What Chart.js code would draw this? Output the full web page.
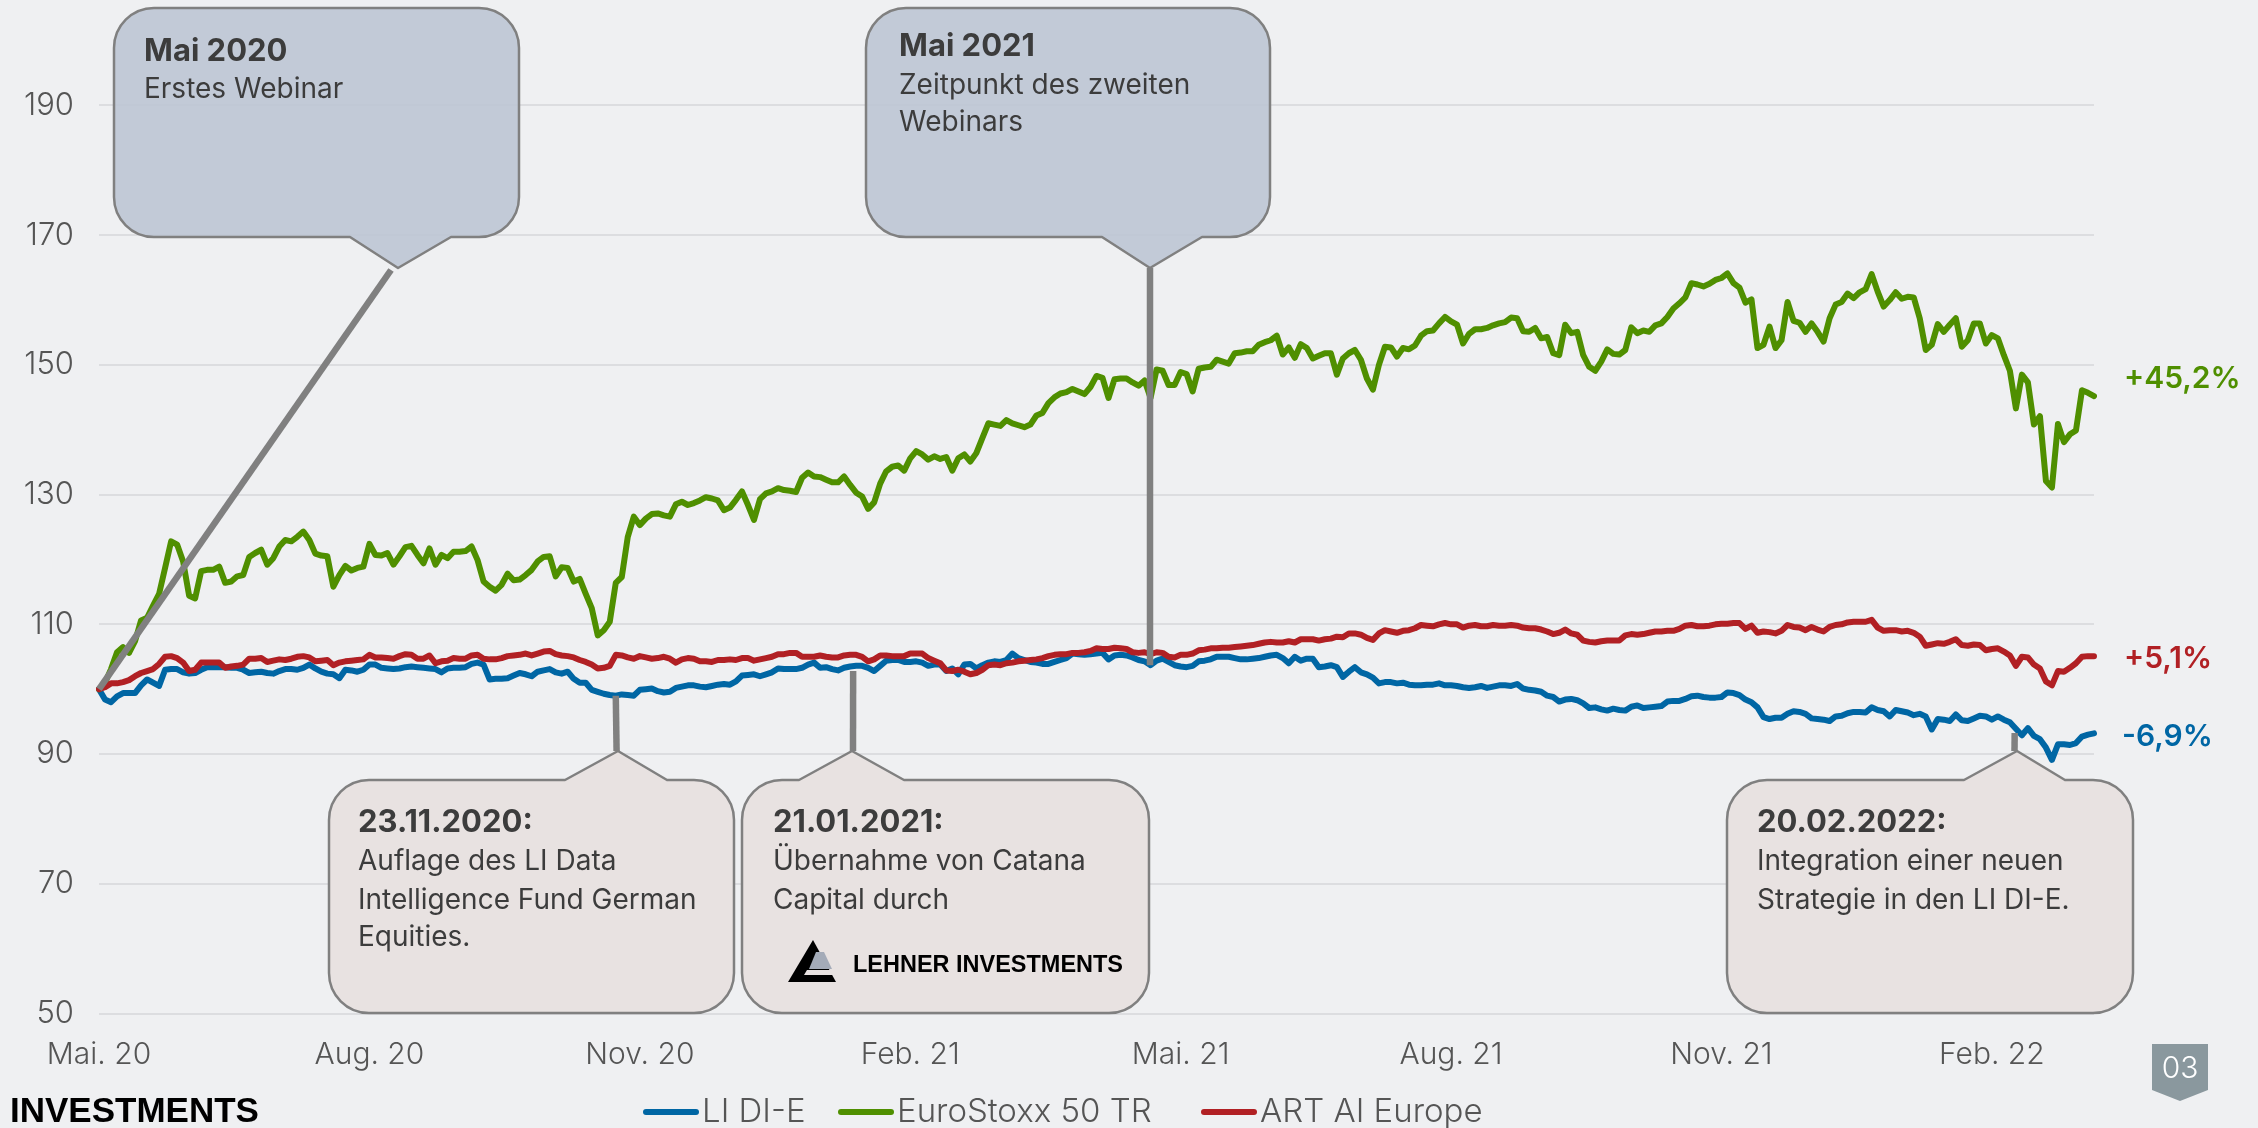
<!DOCTYPE html>
<html lang="de">
<head>
<meta charset="utf-8">
<title>LI DI-E</title>
<script src="https://cdn.jsdelivr.net/npm/chart.js@4/dist/chart.umd.min.js"></script>
<style>html,body{margin:0;padding:0;background:#eff0f2;overflow:hidden}canvas{display:block}</style>
</head>
<body>
<canvas id="c" width="2258" height="1128"></canvas>
<script>
const xTickLabels = ['Mai. 20','Aug. 20','Nov. 20','Feb. 21','Mai. 21','Aug. 21','Nov. 21','Feb. 22'];
const xTickEvery = 45;
const yTickValues = [50,70,90,110,130,150,170,190];

const seriesNames = ['LI DI-E','EuroStoxx 50 TR','ART AI Europe'];
const endLabels = ['-6,9%','+45,2%','+5,1%'];

const liDiE = [
100,98.4,98,98.9,99.4,99.4,99.4,100.6,101.5,101,100.5,103,103.1,103.1,102.6,102.4,102.5,103,103.4,103.4,103.4,103.4,103.3,103.3,103,102.5,102.6,102.7,102.5,102.4,102.8,103.1,103.1,103,103.3,103.8,103.2,102.7,102.4,102.3,101.7,103,102.9,102.7,103,103.8,103.8,103.3,103.2,103.1,103.2,103.4,103.5,103.4,103.3,103.2,
103.1,102.6,103.2,103.3,103.3,103.4,103.9,104.1,103.8,101.5,101.6,101.6,101.7,102.1,102.5,102.3,102,102.7,102.9,103.1,102.6,102.4,102.7,101.6,101,101,99.9,99.6,99.3,99.1,99,99.2,99.1,99,99.9,100,100.1,99.7,99.5,99.6,100.2,100.4,100.6,100.6,100.4,100.3,100.5,100.7,100.8,100.7,101.2,102.1,102.2,102.3,102,102.3,
102.6,103.2,103.1,103.1,103.1,103.3,103.8,104.1,103.3,103.4,103.1,102.9,103.3,103.5,103.6,103.6,103.3,102.8,103.6,104.4,104.5,104.5,104.2,104.2,104.3,104.1,103.6,103.8,103.8,102.8,103.2,102.3,103.8,103.9,103.2,103.7,104.1,104.3,104.2,104.5,105.5,104.8,104.5,104.2,104.1,103.9,103.9,104.2,104.5,104.8,105.5,105.4,105.3,105.4,105.5,105.6,104.6,
105.2,105.3,105.2,104.9,104.5,104.3,103.7,104.4,104.7,104.2,103.7,103.5,103.4,103.6,104.3,104.4,104.6,105,105,105,104.8,104.6,104.6,104.7,104.8,105,105.2,105.3,104.8,104,105,104.4,104.7,104.7,103.4,103.5,103.7,103.4,101.9,102.7,103.4,102.6,102.3,101.8,100.9,101.1,101.1,100.9,101,100.7,100.6,100.6,100.7,100.7,100.9,100.6,100.6,
100.5,100.3,100.2,100.3,100.5,100.2,100.4,100.6,100.6,100.5,100.8,100.1,99.9,99.8,99.6,99,98.8,98.1,98.4,98.5,98.3,97.8,97.1,97.2,96.9,96.7,97,96.8,96.7,97.3,97.5,97.1,97.2,97.3,97.4,98.1,98.2,98.2,98.5,98.9,99,98.8,98.7,98.7,98.8,99.5,99.4,99.1,98.4,98,97.2,95.7,95.4,95.6,95.6,96.2,
96.6,96.5,96.2,95.5,95.4,95.3,95.1,95.8,95.9,96.3,96.5,96.5,96.4,97.2,96.8,96.6,95.8,96.8,96.6,96.4,96,96.2,95.8,93.8,95.4,95.3,95.1,96.1,95.2,95.1,95.5,95.9,95.8,95.3,95.8,95.3,94.9,93.9,92.9,94,92.8,92.3,91,89.1,91.5,91.5,91.4,91.7,92.7,93,93.2
];

const euroStoxx50TR = [
100,101,103.1,105.7,106.5,105.6,107.4,110.6,111,112.9,114.7,118.7,122.8,122.3,119.7,114.4,114,118.2,118.4,118.4,118.9,116.4,116.6,117.4,117.6,120.4,121,121.5,119.2,120.2,122,123,122.8,123.5,124.3,123,120.9,120.6,120.5,115.8,117.6,119,118.3,118.7,118.9,122.4,120.7,120.6,121,119.2,120.5,121.9,122.1,120.7,119.4,121.7,
119.2,120.7,120.2,121.2,121.2,121.3,122,119.9,116.6,115.8,115.2,116.1,117.8,116.8,116.9,117.6,118.4,119.7,120.4,120.5,117.4,118.8,118.7,116.6,117,114.7,112.5,108.3,109.1,110.4,116.4,117.3,123.5,126.6,125.3,126.3,127,127.1,126.8,126.6,128.5,128.9,128.4,128.7,129.1,129.6,129.4,129.1,127.6,128,129.2,130.5,128.4,126.1,129.3,130.2,
130.5,131,130.7,130.6,130.4,132.6,133.4,132.8,132.7,132.3,131.9,131.9,132.8,131.5,130.3,129.7,127.8,128.8,131.7,133.6,134.3,134.5,133.7,135.6,136.7,136.2,135.4,135.9,135.5,135.8,133.7,135.6,136.2,135.1,136.4,138.7,141,140.8,140.6,141.5,141,140.7,140.4,140.8,142.2,142.6,144.1,145,145.6,145.8,146.3,145.9,145.5,146.6,148.3,148,144.9,
147.8,147.9,147.9,147.3,146.8,147.6,144.9,149.3,149.1,146.9,146.9,148.9,148.6,145.9,149.4,149.6,149.7,150.8,150.5,150.2,151.8,151.9,152.1,152.1,153.1,153.5,153.8,154.5,151.6,152.7,151.1,153.2,152.6,151,151.4,151.8,151.8,148.5,151,151.8,152.3,150.8,147.9,146.2,150,152.8,152.7,151.3,152.6,152.4,153,154.5,155.2,155.3,156.4,157.4,156.7,
156.2,153.3,154.8,155.5,155.5,155.7,156.1,156.4,156.6,157.3,157.2,155.2,155.1,155.7,154.1,154.3,151.8,151.5,156.2,154.9,155.1,151.5,149.7,149.1,150.5,152.4,151.7,151.6,152.3,155.8,154.9,155.3,155.1,156.1,156.4,157.4,158.7,159.5,160.4,162.6,162.4,162.1,162.5,163.1,163.4,164.1,162.6,161.9,159.6,160.1,152.6,153.1,155.9,152.6,153.8,159.7,
156.8,156.5,155.1,156.4,155.1,153.6,157.2,159.3,159.7,161,160.3,161.2,161.7,164,161.3,159,160,161.2,160.2,160.5,160.4,157.2,152.3,153.1,156.3,155.1,156.2,157.2,152.8,153.8,156.4,156.4,153.3,154.6,154.1,151.5,149.1,143.3,148.5,147.3,140.8,142.1,132.1,131.1,140.9,138.1,139.3,139.9,146.1,145.7,145.2
];

const artAiEurope = [
100,100.3,100.9,100.9,101.1,101.4,102,102.5,102.8,103.1,103.9,105,105.1,104.8,104.1,102.8,103,104.1,104.1,104.1,104.1,103.3,103.5,103.6,103.8,104.7,104.7,104.8,104.2,104.4,104.6,104.5,104.7,105,105.1,104.9,104.3,104.4,104.5,103.7,104.1,104.3,104.4,104.5,104.6,105.3,104.9,104.9,104.8,104.7,105.1,105.4,105.3,104.7,104.7,105.2,
104,104.3,104.4,104.8,104.7,104.7,105.2,105.3,104.7,104.6,104.6,104.8,105.1,105.2,105.3,105.5,105.2,105.5,105.8,105.9,105.4,105.2,105.1,104.9,104.5,104.2,103.8,103.2,103.3,103.6,105.3,105.2,104.9,104.7,105.1,104.9,104.7,104.8,105,104.7,104.1,104.6,104.8,104.7,104.3,104.3,104.2,104.5,104.5,104.6,104.5,104.8,104.8,104.4,104.6,104.8,
105,105.4,105.4,105.6,105.6,105,105,105,105.2,105,104.9,104.9,105.2,105.3,105.3,105,104.3,104.6,105.2,105.2,105.1,105.1,105.1,105.5,105.5,105.5,104.8,104.4,104,102.9,102.8,103,102.7,102.3,102.5,103,103.7,103.8,103.7,104,104.1,104.3,104.4,104.5,104.6,104.8,105.1,105.3,105.4,105.4,105.6,105.6,105.7,105.9,106.3,106.2,106.2,
106.4,106.3,106.2,105.7,105.6,105.7,105.4,105.7,105.6,105,104.9,105.3,105.3,105.5,106,106.1,106.3,106.3,106.4,106.4,106.5,106.6,106.7,106.8,107,107.2,107.3,107.2,107.2,107.4,107.2,107.7,107.7,107.7,107.5,107.7,107.8,108.1,108,108.6,108.6,108.4,107.9,107.6,108.6,109.1,108.9,108.7,109,109.1,109.4,109.9,109.8,109.7,110,110.2,110,
110,109.5,109.8,109.9,109.7,109.7,109.9,109.8,109.8,109.9,109.8,109.5,109.4,109.4,109.2,108.9,108.5,108.7,109.2,108.6,108.4,107.5,107.3,107.2,107.4,107.5,107.5,107.5,108.3,108.5,108.4,108.5,108.7,108.9,108.9,109,109,109.3,109.8,109.9,109.7,109.7,109.8,110,110.1,110.1,110.2,110.2,109.3,109.8,108.7,108.9,108.8,108.6,109,109.9,
109.6,109.5,109.1,109.6,109.2,108.9,109.6,109.9,110,110.3,110.4,110.4,110.4,110.7,109.5,109,109.1,109.1,108.9,109,108.7,108.1,106.7,106.9,107.1,107,107.3,107.7,106.8,106.7,106.9,106.8,106,106.2,106.3,105.8,105.2,103.6,105,104.9,103.8,103.2,101.2,100.6,102.8,102.7,103.3,104,105,105.1,105.1
];

const pointCount = euroStoxx50TR.length;
if (liDiE.length !== pointCount || artAiEurope.length !== pointCount) {
  throw new Error('series length mismatch ' + liDiE.length + ' ' + pointCount + ' ' + artAiEurope.length);
}
const categories = Array.from({length: pointCount}, (_, i) => (i % xTickEvery === 0 && xTickLabels[i / xTickEvery]) || '');

const BG = '#eff0f2', TXT = '#3c3c3c', GREY = '#808080';
const COLORS = ['#0066a4', '#4f8f00', '#b12024'];
const TOP_FILL = 'rgba(189,197,212,0.9)', BOT_FILL = 'rgba(232,226,225,1)';
const SANS = 'Inter, "Liberation Sans", sans-serif';

const callouts = [
  {box:[114,8,519,237], ptr:[350,398,451], tipY:268, fill:TOP_FILL, from:[0,100], to:[391,270],
   title:'Mai 2020', tx:144, lines:[[50,'b'],[88]], text:['Erstes Webinar']},
  {box:[866,8,1270,237], ptr:[1102,1150,1202], tipY:268, fill:TOP_FILL, from:[174.9,103.7], to:[1150,268],
   title:'Mai 2021', tx:899, lines:[[45,'b'],[84],[121]], text:['Zeitpunkt des zweiten','Webinars']},
  {box:[329,780,734,1013], ptr:[565,618,667], tipY:751, fill:BOT_FILL, from:[86,99], to:[616.6,751],
   title:'23.11.2020:', tx:358, lines:[[821,'b'],[860],[899],[936]], text:['Auflage des LI Data','Intelligence Fund German','Equities.']},
  {box:[742,780,1149,1013], ptr:[799,852,904], tipY:751, fill:BOT_FILL, from:[125.5,102.8], to:[853,751],
   title:'21.01.2021:', tx:773, lines:[[821,'b'],[860],[899]], text:['Übernahme von Catana','Capital durch']},
  {box:[1727,780,2133,1013], ptr:[1964,2017,2065], tipY:751, fill:BOT_FILL, from:[318.8,93.25], to:[2014.5,751],
   title:'20.02.2022:', tx:1757, lines:[[821,'b'],[860],[899]], text:['Integration einer neuen','Strategie in den LI DI-E.']}
];

function calloutPath(ctx, c) {
  const [l,t,r,b] = c.box, R = 40, [p0,p1,p2] = c.ptr;
  ctx.beginPath();
  ctx.moveTo(l+R,t);
  if (c.tipY < t) { ctx.lineTo(p0,t); ctx.lineTo(p1,c.tipY); ctx.lineTo(p2,t); }
  ctx.lineTo(r-R,t); ctx.arcTo(r,t,r,t+R,R);
  ctx.lineTo(r,b-R); ctx.arcTo(r,b,r-R,b,R);
  if (c.tipY > b) { ctx.lineTo(p2,b); ctx.lineTo(p1,c.tipY); ctx.lineTo(p0,b); }
  ctx.lineTo(l+R,b); ctx.arcTo(l,b,l,b-R,R);
  ctx.lineTo(l,t+R); ctx.arcTo(l,t,l+R,t,R);
  ctx.closePath();
}

const overlay = {
  id:'overlay',
  afterDatasetsDraw(chart) {
    const ctx = chart.ctx, X = chart.scales.x, Y = chart.scales.y;
    ctx.save();
    ctx.lineCap = 'butt'; ctx.lineJoin = 'round';
    callouts.forEach(c => {
      ctx.strokeStyle = GREY; ctx.lineWidth = 6.5;
      ctx.beginPath();
      ctx.moveTo(X.getPixelForValue(c.from[0]), Y.getPixelForValue(c.from[1]));
      ctx.lineTo(c.to[0], c.to[1]);
      ctx.stroke();
      calloutPath(ctx, c);
      ctx.fillStyle = c.fill; ctx.fill();
      ctx.strokeStyle = GREY; ctx.lineWidth = 2.5; ctx.stroke();
      ctx.textAlign = 'left'; ctx.textBaseline = 'middle'; ctx.fillStyle = TXT;
      ctx.font = '700 31px ' + SANS;
      ctx.fillText(c.title, c.tx, c.lines[0][0] + 2);
      ctx.font = '400 28px ' + SANS;
      c.text.forEach((s,i) => ctx.fillText(s, c.tx, c.lines[i+1][0] + 2));
    });
    // logo inside 21.01.2021 callout
    ctx.fillStyle = '#000';
    ctx.beginPath(); ctx.moveTo(813,940); ctx.lineTo(836,982); ctx.lineTo(788,982); ctx.closePath(); ctx.fill();
    ctx.fillStyle = '#a4abb8';
    ctx.beginPath(); ctx.moveTo(816,952); ctx.lineTo(824,952); ctx.lineTo(832,969); ctx.lineTo(809,969); ctx.closePath(); ctx.fill();
    ctx.fillStyle = '#e8e2e1';
    ctx.beginPath(); ctx.moveTo(807,970); ctx.lineTo(833,970); ctx.lineTo(835,975); ctx.lineTo(804,975); ctx.closePath(); ctx.fill();
    ctx.fillStyle = '#000'; ctx.textBaseline = 'middle'; ctx.textAlign = 'left';
    ctx.font = '700 24px "Liberation Sans", Arial, sans-serif';
    ctx.fillText('LEHNER INVESTMENTS', 853, 965, 270);

    // end labels
    const endY = [737, 379, 659], endX = [2122, 2124, 2124];
    ctx.font = '600 30px ' + SANS;
    endLabels.forEach((s,i) => { ctx.fillStyle = COLORS[i]; ctx.fillText(s, endX[i], endY[i]); });

    // legend
    const leg = [[643,699,702],[838,894,897],[1201,1257,1260]];
    ctx.font = '300 33px ' + SANS;
    ctx.lineCap = 'round';
    seriesNames.forEach((s,i) => {
      ctx.strokeStyle = COLORS[i]; ctx.lineWidth = 6;
      ctx.beginPath(); ctx.moveTo(leg[i][0]+3,1112); ctx.lineTo(leg[i][1]-3,1112); ctx.stroke();
      ctx.fillStyle = '#555';
      ctx.fillText(s, leg[i][2], 1112);
    });

    // footer wordmark
    ctx.fillStyle = '#000';
    ctx.font = '700 35px "Liberation Sans", Arial, sans-serif';
    ctx.fillText('INVESTMENTS', 10, 1112);

    // page badge
    ctx.fillStyle = '#8a989e';
    ctx.beginPath(); ctx.moveTo(2152,1044); ctx.lineTo(2208,1044); ctx.lineTo(2208,1090); ctx.lineTo(2180,1101); ctx.lineTo(2152,1090); ctx.closePath(); ctx.fill();
    ctx.fillStyle = '#fff'; ctx.textAlign = 'center';
    ctx.font = '300 30px ' + SANS;
    ctx.fillText('03', 2180, 1069);
    ctx.restore();
  }
};

new Chart(document.getElementById('c'), {
  type:'line',
  data:{
    labels:categories,
    datasets:[liDiE, euroStoxx50TR, artAiEurope].map((d,i) => ({
      label:seriesNames[i], data:d, borderColor:COLORS[i], backgroundColor:COLORS[i],
      borderWidth:6, pointRadius:0, tension:0, fill:false,
      borderCapStyle:'round', borderJoinStyle:'round', order:2-i
    }))
  },
  options:{
    responsive:false, animation:false, devicePixelRatio:1,
    layout:{autoPadding:false, padding:{left:0,right:164,top:0,bottom:0}},
    plugins:{legend:{display:false},tooltip:{enabled:false},title:{display:false}},
    scales:{
      x:{
        type:'category', offset:false,
        grid:{display:false}, border:{display:false},
        afterFit(s){ s.height = 114.5; },
        ticks:{autoSkip:false,maxRotation:0,minRotation:0,padding:15,color:'#555',
          font:{family:'Inter',weight:'300',size:30},
          callback(v){ return categories[v]; }}
      },
      y:{
        min:50, max:199.54,
        afterBuildTicks(s){ s.ticks = yTickValues.map(v => ({value:v})); },
        afterFit(s){ s.width = 99; },
        grid:{color:'#dcdde0',lineWidth:2,drawTicks:false}, border:{display:false},
        ticks:{padding:25,color:'#555',font:{family:'Inter',weight:'300',size:31}}
      }
    }
  },
  plugins:[{id:'bg',beforeDraw(ch){const c=ch.ctx;c.save();c.fillStyle=BG;c.fillRect(0,0,ch.width,ch.height);c.restore();}}, overlay]
});
</script>
</body>
</html>
